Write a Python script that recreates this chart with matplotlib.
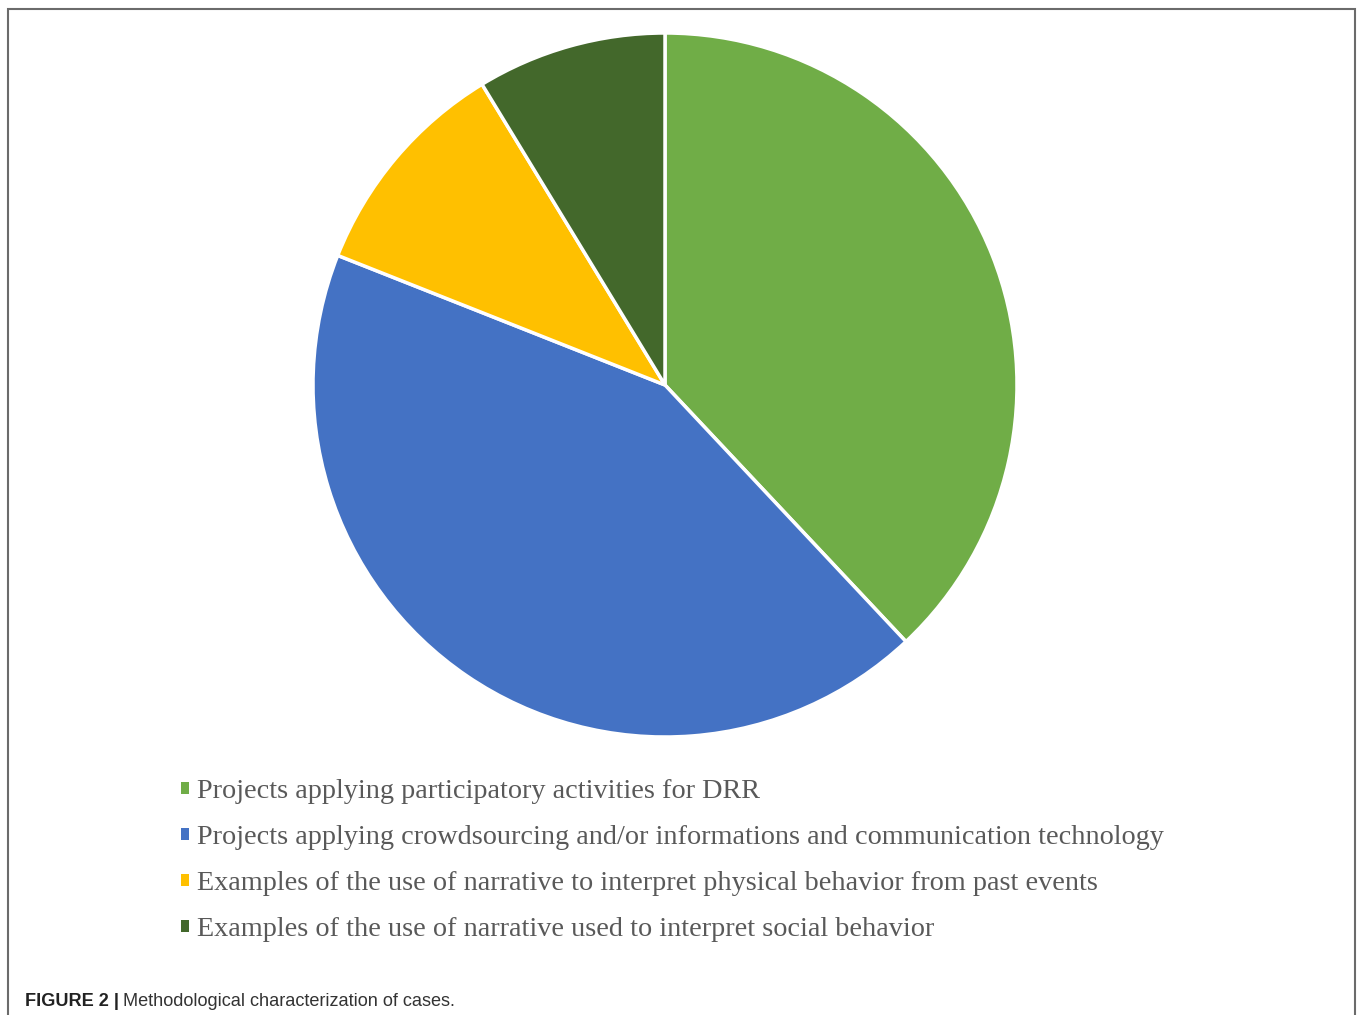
import matplotlib.pyplot as plt
from matplotlib.patches import Rectangle

# data (share of cases, %)
labels = [
    'Projects applying participatory activities for DRR',
    'Projects applying crowdsourcing and/or informations and communication technology',
    'Examples of the use of narrative to interpret physical behavior from past events',
    'Examples of the use of narrative used to interpret social behavior',
]
shares = [38.0, 43.0, 10.3, 8.7]
colors = ['#70AD47', '#4472C4', '#FFC000', '#43682B']

W, H = 1358, 1015
fig = plt.figure(figsize=(W / 100, H / 100), dpi=100)
fig.patch.set_facecolor('white')

# pie axes: center (665, 385), radius ~350 px
r = 352
ax = fig.add_axes([(665 - r) / W, 1 - (385 + r) / H, 2 * r / W, 2 * r / H])
wedges, _ = ax.pie(shares, colors=colors, startangle=90, counterclock=False,
                   wedgeprops=dict(edgecolor='white', linewidth=2.5))
ax.set_xlim(-1.0, 1.0)
ax.set_ylim(-1.0, 1.0)
ax.set_aspect('equal')
ax.axis('off')

# outer frame
fig.patches.append(Rectangle((8 / W, -0.01), (1355 - 8) / W, 1 - 9 / H + 0.01,
                             transform=fig.transFigure, fill=False,
                             edgecolor='#6b6b6b', linewidth=1.5))

# legend
leg = fig.legend(wedges, labels, loc='upper left',
                 bbox_to_anchor=(181 / W, 1 - 779 / H),
                 frameon=False, prop={'family': 'Liberation Serif', 'size': 20.3},
                 handlelength=0.28, handleheight=0.28, handletextpad=0.3,
                 labelspacing=0.75, borderaxespad=0, borderpad=0)
for t in leg.get_texts():
    t.set_color('#595959')
for h in leg.legend_handles:
    h.set_edgecolor('none')

# caption
fig.canvas.draw()
r_ = fig.canvas.get_renderer()
t1 = fig.text(25 / W, 1 - 1006 / H, 'FIGURE 2 |', family='Liberation Sans',
              fontweight='bold', fontsize=13.1, va='baseline', color='#222222')
bb = t1.get_window_extent(renderer=r_)
fig.text((bb.x1 + 4) / W, 1 - 1006 / H, 'Methodological characterization of cases.',
         family='Liberation Sans', fontsize=13.1, va='baseline', color='#333333')

plt.savefig('out.png', dpi=100)
